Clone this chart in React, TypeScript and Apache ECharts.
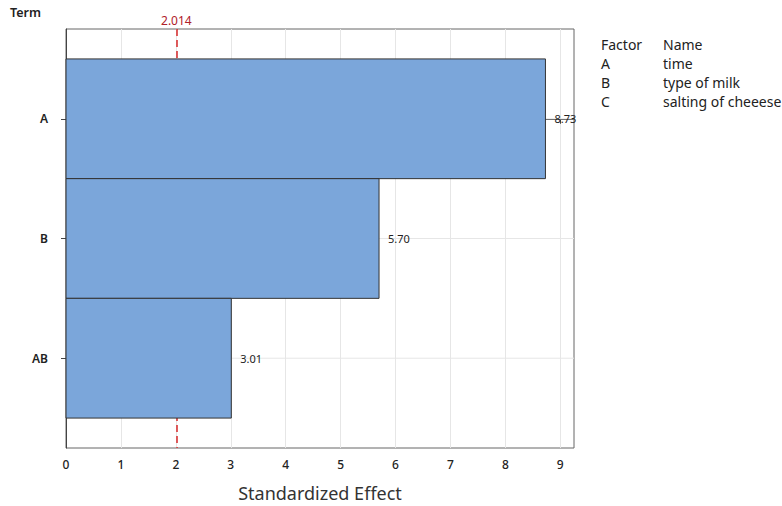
import React, { useEffect, useRef } from "react";
import * as echarts from "echarts";

const terms = ["A", "B", "AB"];
const effects = [8.73, 5.7, 3.01];
const effectLabels = ["8.73", "5.70", "3.01"];
const xTicks = [0, 1, 2, 3, 4, 5, 6, 7, 8, 9];
const criticalValue = 2.014;
const legendFactors = ["A", "B", "C"];
const legendNames = ["time", "type of milk", "salting of cheeese"];

const FONT = "Noto Sans";

export default function App() {
  const ref = useRef<HTMLDivElement>(null);
  useEffect(() => {
    if (!ref.current) return;
    const chart = echarts.init(ref.current, null, { renderer: "svg" });
    const xMax = 9.25;
    const data = effects.map((v, i) => [v, i]);
    const legendTexts: any[] = [
      { type: "text", left: 601, top: 37, style: { text: "Factor", font: `14px "${FONT}"`, fill: "#222" } },
      { type: "text", left: 663, top: 37, style: { text: "Name", font: `14px "${FONT}"`, fill: "#222" } },
      { type: "text", left: 10, top: 6, style: { text: "Term", font: `600 12.5px "${FONT}"`, fill: "#222" } },
    ];
    legendFactors.forEach((f, i) => {
      legendTexts.push({ type: "text", left: 601, top: 56 + i * 19, style: { text: f, font: `14px "${FONT}"`, fill: "#222" } });
      legendTexts.push({ type: "text", left: 663, top: 56 + i * 19, style: { text: legendNames[i], font: `14px "${FONT}"`, fill: "#222" } });
    });
    chart.setOption({
      animation: false,
      textStyle: { fontFamily: FONT },
      grid: {
        left: 66, top: 29, right: 208, bottom: 58,
        outerBoundsMode: "none",
        containLabel: false,
        show: true, borderColor: "#666", borderWidth: 1, backgroundColor: "#fff",
      },
      xAxis: {
        type: "value",
        min: 0,
        max: xMax,
        interval: 1,
        name: "Standardized Effect",
        nameLocation: "middle",
        nameGap: 36,
        nameTextStyle: { fontSize: 18, color: "#333", fontFamily: FONT },
        axisLine: { show: true, lineStyle: { color: "#444" } },
        axisTick: { show: true, length: 5, lineStyle: { color: "#444" }, customValues: xTicks },
        axisLabel: { customValues: xTicks, color: "#222", fontSize: 12, fontWeight: 500, margin: 10, fontFamily: FONT },
        splitLine: { show: true, lineStyle: { color: "#e6e6e6" } },
      },
      yAxis: {
        type: "value",
        inverse: true,
        min: -0.75,
        max: 2.75,
        axisLine: { show: true, lineStyle: { color: "#444" } },
        axisTick: { show: true, length: 5, lineStyle: { color: "#444" }, customValues: [0, 1, 2] },
        axisLabel: {
          customValues: [0, 1, 2],
          formatter: (v: number) => terms[Math.round(v)] ?? "",
          color: "#222",
          fontSize: 12,
          fontWeight: 600,
          margin: 18,
        },
        splitLine: { show: false },
      },
      graphic: legendTexts,
      series: [
        {
          type: "custom",
          z: 3,
          encode: { x: 0, y: 1 },
          data,
          renderItem: (params: any, api: any) => {
            const v = api.value(0);
            const idx = api.value(1);
            const p0 = api.coord([0, idx - 0.5]);
            const p1 = api.coord([v, idx + 0.5]);
            const c = api.coord([v, idx]);
            const g0 = api.coord([0, idx]);
            const g1 = api.coord([xMax, idx]);
            const y = Math.min(p0[1], p1[1]);
            const h = Math.abs(p1[1] - p0[1]);
            return {
              type: "group",
              children: [
                { type: "line", z2: 0, shape: { x1: g0[0], y1: g0[1], x2: g1[0], y2: g1[1] }, style: { stroke: "#e6e6e6", lineWidth: 1 } },
                { type: "rect", z2: 1, shape: { x: p0[0], y, width: p1[0] - p0[0], height: h }, style: { fill: "#7BA6DA", stroke: "#333", lineWidth: 1 } },
                {
                  type: "text",
                  z2: 2,
                  x: c[0] + 9,
                  y: c[1],
                  style: { text: effectLabels[params.dataIndex], font: `11px "${FONT}"`, fill: "#222", verticalAlign: "middle", align: "left" },
                },
              ],
            };
          },
          markLine: {
            silent: true,
            z: 1,
            symbol: "none",
            data: [{ xAxis: criticalValue }],
            lineStyle: { color: "#d62728", type: [7, 4], width: 1.5 },
            label: { show: true, position: "start", formatter: String(criticalValue), color: "#b0202a", fontSize: 12, fontFamily: FONT, distance: 3 },
          },
        },
      ],
    });
    return () => chart.dispose();
  }, []);
  return <div ref={ref} style={{ position: "absolute", left: 0, top: 0, width: 782, height: 506 }} />;
}
